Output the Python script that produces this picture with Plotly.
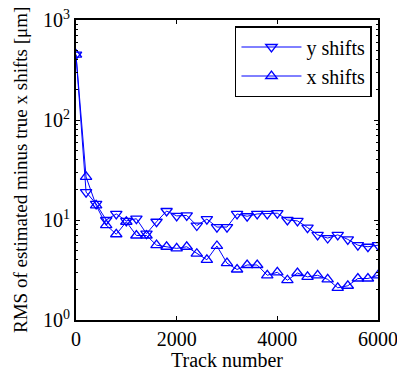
import plotly.graph_objects as go

tracks = list(range(0, 6001, 200))
y_shifts = [450, 19, 14.5, 10, 11.5, 9.8, 10.3, 7.3, 9.6, 12.3, 11, 11.1, 8.8, 10.2, 8.5, 8.5,
            11.5, 10.9, 11.5, 11.5, 11.7, 10, 9.8, 8.4, 7.1, 6.6, 7.1, 6.4, 5.6, 5.4, 5.6]
x_shifts = [450, 27, 14, 8.9, 7.2, 9.6, 7.0, 7.0, 5.6, 5.4, 5.2, 5.4, 4.6, 4.0, 5.5, 3.7,
            3.2, 3.55, 3.55, 2.8, 3.0, 2.5, 2.95, 2.7, 2.8, 2.55, 2.1, 2.2, 2.6, 2.6, 2.8]
ytick_vals = [1, 10, 100, 1000]
ytick_text = ["10<sup>0</sup>", "10<sup>1</sup>", "10<sup>2</sup>", "10<sup>3</sup>"]
xtick_vals = [0, 2000, 4000, 6000]

font = "Liberation Serif, Times New Roman, serif"
blue = "#0000ff"
fs = 20

fig = go.Figure()
fig.add_trace(go.Scatter(x=tracks, y=y_shifts, name="y shifts", mode="lines+markers",
                         line=dict(color=blue, width=1),
                         marker=dict(symbol="triangle-down-open", size=10, color=blue, line=dict(width=1.3))))
fig.add_trace(go.Scatter(x=tracks, y=x_shifts, name="x shifts", mode="lines+markers",
                         line=dict(color=blue, width=1),
                         marker=dict(symbol="triangle-up-open", size=10, color=blue, line=dict(width=1.3))))

fig.update_layout(
    width=397, height=371,
    margin=dict(l=76, r=19, t=20, b=51),
    paper_bgcolor="white", plot_bgcolor="white",
    font=dict(family=font, size=fs, color="black"),
    showlegend=True,
    legend=dict(x=0.98, y=0.98, xanchor="right", yanchor="top",
                bordercolor="black", borderwidth=1.5, bgcolor="white",
                itemwidth=60,
                font=dict(family=font, size=fs), tracegroupgap=0),
)
fig.update_xaxes(range=[0, 6000], tickmode="array", tickvals=xtick_vals,
                 ticks="inside", ticklen=4, tickcolor="black",
                 showline=True, linecolor="black", linewidth=2, mirror="allticks",
                 showgrid=False, zeroline=False, automargin=False,
                 ticklabeloverflow="allow",
                 title=dict(text="Track number", font=dict(family=font, size=fs), standoff=0),
                 tickfont=dict(family=font, size=fs))
fig.update_yaxes(type="log", range=[0, 3], tickmode="array", tickvals=ytick_vals, ticktext=ytick_text,
                 ticks="inside", ticklen=4, tickcolor="black",
                 minor=dict(ticks="inside", ticklen=2, tickcolor="black", dtick="D1", showgrid=False),
                 showline=True, linecolor="black", linewidth=2, mirror="allticks",
                 showgrid=False, zeroline=False, automargin=False,
                 ticklabeloverflow="allow",
                 tickfont=dict(family=font, size=fs))
fig.add_annotation(text="RMS of estimated minus true x shifts [μm]", xref="paper", yref="paper",
                   x=-56 / 302, y=0.5, xanchor="center", yanchor="middle", textangle=-90,
                   showarrow=False, font=dict(family=font, size=19))

fig.write_html("out.html")
